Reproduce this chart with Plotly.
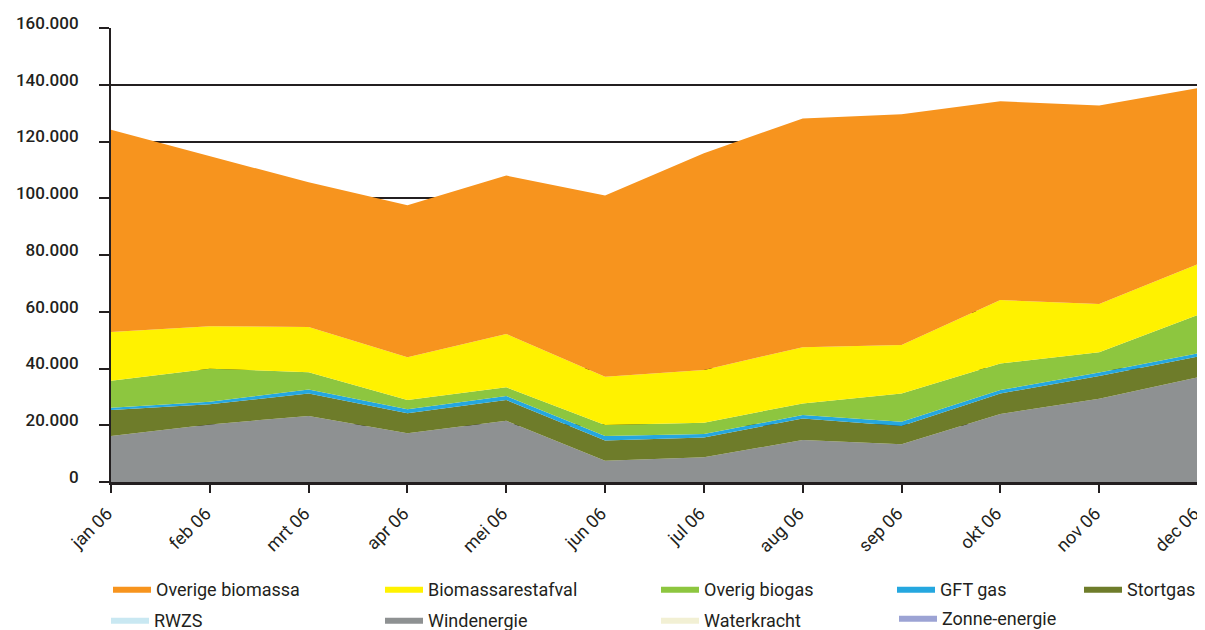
import plotly.graph_objects as go

# months on the x axis
months = ["jan 06", "feb 06", "mrt 06", "apr 06", "mei 06", "jun 06",
          "jul 06", "aug 06", "sep 06", "okt 06", "nov 06", "dec 06"]

# monthly production per source (stacked, bottom to top)
rwzs = [0, 0, 0, 0, 0, 0, 0, 0, 0, 0, 0, 0]
waterkracht = [0, 0, 0, 0, 0, 0, 0, 0, 0, 0, 0, 0]
zonne_energie = [0, 0, 0, 0, 0, 0, 0, 0, 0, 0, 0, 0]
windenergie = [16200, 20300, 23300, 17200, 21600, 7500, 8700, 14800, 13300, 24000, 29300, 36900]
stortgas = [9200, 7100, 7900, 7000, 7300, 7100, 7000, 7600, 6400, 7200, 8100, 7300]
gft_gas = [800, 900, 1400, 1400, 1400, 1600, 1200, 1200, 1500, 1200, 1200, 1200]
overig_biogas = [9500, 11600, 6100, 3300, 3100, 3900, 4000, 4100, 10000, 9400, 7100, 13500]
biomassarestafval = [17200, 15000, 15900, 15100, 18800, 17000, 18600, 19800, 17100, 22300, 17000, 17900]
overige_biomassa = [71200, 60000, 51000, 53500, 55800, 63900, 76400, 80600, 81300, 70100, 70000, 62000]

y_ticks = [0, 20000, 40000, 60000, 80000, 100000, 120000, 140000, 160000]
y_ticktext = ["0", "20.000", "40.000", "60.000", "80.000", "100.000",
              "120.000", "140.000", "160.000"]

DARK = "#231f20"
FONT = "Roboto"

# (name, values, colour, legend id) in stacking order
series = [
    ("RWZS", rwzs, "#c9e8f2", "legend6"),
    ("Waterkracht", waterkracht, "#f2f0d4", "legend8"),
    ("Zonne-energie", zonne_energie, "#9ca3d4", "legend9"),
    ("Windenergie", windenergie, "#8e9192", "legend7"),
    ("Stortgas", stortgas, "#6e7c2a", "legend5"),
    ("GFT gas", gft_gas, "#25a7df", "legend4"),
    ("Overig biogas", overig_biogas, "#8dc63f", "legend3"),
    ("Biomassarestafval", biomassarestafval, "#fff200", "legend2"),
    ("Overige biomassa", overige_biomassa, "#f7941e", "legend"),
]

fig = go.Figure()
for name, vals, color, leg in series:
    fig.add_trace(go.Scatter(
        x=months, y=vals, name=name, mode="lines",
        stackgroup="one", line=dict(width=0, color=color),
        fillcolor=color, legend=leg,
    ))

# the page puts the figure 8px in from the window corner
OFF = 8
CW, CH = 1205 - OFF, 630 - OFF
# plot area in window pixels
L, R, T, B = 111 - OFF, 1198 - OFF, 28 - OFF, 482 - OFF

# legend entries: left edge of the swatch, vertical centre (window pixels)
legend_pos = {
    "legend": (113, 589), "legend2": (385, 589), "legend3": (661, 589),
    "legend4": (897, 589), "legend5": (1084, 589),
    "legend6": (111, 620), "legend7": (385, 620), "legend8": (661, 620),
    "legend9": (899, 618),
}
legends = {}
for key, (lx, ly) in legend_pos.items():
    legends[key] = dict(
        xref="container", yref="container",
        x=(lx - OFF - 5) / CW, y=1 - (ly - OFF) / CH,
        xanchor="left", yanchor="middle",
        bgcolor="rgba(0,0,0,0)", borderwidth=0, itemwidth=38,
        font=dict(family=FONT, size=18, color=DARK),
    )

fig.update_layout(
    width=CW, height=CH,
    margin=dict(l=L, r=CW - R, t=T, b=CH - B, autoexpand=False),
    paper_bgcolor="white", plot_bgcolor="white",
    showlegend=True,
    xaxis=dict(
        type="category", range=[0, len(months) - 1], automargin=False,
        showgrid=False, zeroline=False,
        showline=True, linecolor=DARK, linewidth=3,
        ticks="outside", ticklen=8, tickwidth=2, tickcolor=DARK,
        tickangle=-45, ticklabelshift=-4, ticklabelstandoff=3,
        tickfont=dict(family=FONT, size=18, color=DARK),
    ),
    yaxis=dict(
        range=[0, 160000], tickvals=y_ticks, ticktext=y_ticktext,
        automargin=False,
        showgrid=True, gridcolor=DARK, gridwidth=2,
        zeroline=False,
        showline=True, linecolor=DARK, linewidth=2,
        ticks="outside", ticklen=10, tickwidth=2, tickcolor=DARK,
        ticklabelstandoff=17, ticklabelshift=-5,
        tickfont=dict(family=FONT, size=17, color=DARK, weight=500),
    ),
    shapes=[dict(type="line", xref="paper", yref="paper", x0=1, x1=1,
                 y0=0, y1=1, line=dict(color="#bcbec0", width=1),
                 layer="below")],
    **legends,
)

fig.write_html("out.html")
